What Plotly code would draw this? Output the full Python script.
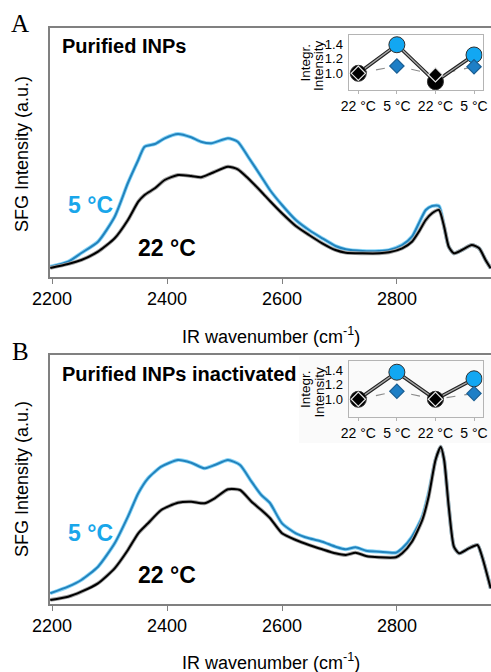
import plotly.graph_objects as go

# ---------------- data ----------------
wn_a = [2197, 2228, 2251, 2280, 2309, 2332, 2350, 2361, 2379, 2396, 2419, 2442, 2459, 2477,
        2506, 2523, 2541, 2564, 2579, 2600, 2624, 2647, 2670, 2693, 2711, 2740, 2769, 2786,
        2809, 2826, 2838, 2850, 2861, 2873, 2882, 2890, 2899, 2913, 2930, 2943, 2954, 2963]
a_5c = [10.3, 15.3, 24, 35.3, 60.3, 94, 117, 130.3, 133, 138.7, 143, 139.7, 135.3, 133.7,
        138.7, 135.3, 120.3, 100.3, 87, 72, 57, 47, 38.7, 31, 27.7, 26, 26, 27,
        32, 40.3, 53.7, 67, 71, 71, 50.3, 30.3, 23.7, 27, 32, 28.7, 17, 8.7]
a_22c = [9, 13, 17, 25.3, 38.7, 57, 75.3, 82, 88.7, 97, 102, 101, 99.7, 103.7,
         110.3, 107.7, 98.7, 85.3, 76, 63.7, 51, 42, 33.7, 27, 24.3, 23.7, 23.7, 24.7,
         28.7, 35.3, 45.3, 57, 63.7, 67, 50.3, 30.3, 23.7, 27, 32, 28.7, 17, 8.7]

wn_b = [2197, 2228, 2251, 2280, 2309, 2332, 2350, 2367, 2390, 2419, 2442, 2465, 2483, 2506,
        2527, 2547, 2564, 2579, 2600, 2624, 2647, 2670, 2693, 2711, 2728, 2746, 2769, 2798,
        2809, 2826, 2844, 2855, 2867, 2876, 2882, 2890, 2899, 2908, 2925, 2940, 2948, 2963]
b_5c = [10.7, 17.3, 24, 37.3, 60.7, 87.3, 110.7, 125.7, 137.3, 144, 141.3, 135.7, 139, 144,
        139, 122.3, 109, 101, 80.7, 70.7, 65.7, 62.3, 57.3, 54.7, 56.7, 53.3, 52.3, 51.3,
        55.7, 67.3, 87.3, 110.7, 144, 157.3, 144, 97.3, 57.3, 50.7, 55.7, 59, 47.3, 15.7]
b_22c = [4, 7.3, 12.3, 20.7, 35.7, 54, 70.7, 80.7, 94, 101.3, 102.3, 100.7, 105.7, 114.7,
         114, 102.3, 94, 86, 70.7, 64, 59, 54.7, 50.7, 49, 51.3, 48, 46.7, 46.7,
         50.7, 62.3, 84, 107.3, 144, 157.3, 144, 97.3, 57.3, 50.7, 55.7, 59, 47.3, 15.7]

inset_pos = [0, 1, 2, 3]
inset_labels = ["22 °C", "5 °C", "22 °C", "5 °C"]
inset_ticks = [1.0, 1.2, 1.4]
a_circles = [1.0, 1.39, 0.885, 1.25]
a_diamonds = [1.0, 1.10, 0.98, 1.09]
b_circles = [1.0, 1.37, 1.0, 1.28]
b_diamonds = [1.0, 1.11, 1.0, 1.08]

# ---------------- styling ----------------
W, H = 491, 672
FONT = "Liberation Sans, Arial, sans-serif"
LIGHTBLUE = "#19A6EA"
BLUE_LINE = "#2283BD"
BLUE_NOISE = "#8AD5F7"
GRAY_NOISE = "#a0a0a0"
AX = "#808080"


def px(x):
    return x / W


def py(y):
    return 1 - y / H


fig = go.Figure()


def add_spectrum(xs, ys, color, noise, xa, ya):
    fig.add_trace(go.Scatter(x=xs, y=ys, mode="lines", line=dict(color=noise, width=3.8, shape="spline", smoothing=0.6),
                             xaxis=xa, yaxis=ya, showlegend=False, hoverinfo="skip"))
    fig.add_trace(go.Scatter(x=xs, y=ys, mode="lines", line=dict(color=color, width=2, shape="spline", smoothing=0.6),
                             xaxis=xa, yaxis=ya, showlegend=False))


add_spectrum(wn_a, a_5c, BLUE_LINE, BLUE_NOISE, "x", "y")
add_spectrum(wn_a, a_22c, "#000000", GRAY_NOISE, "x", "y")
add_spectrum(wn_b, b_5c, BLUE_LINE, BLUE_NOISE, "x2", "y2")
add_spectrum(wn_b, b_22c, "#000000", GRAY_NOISE, "x2", "y2")


def add_inset(circ, dia, xa, ya):
    fig.add_trace(go.Scatter(x=inset_pos, y=dia, mode="lines", line=dict(color="#8c8c8c", width=1.2, dash="dash"),
                             xaxis=xa, yaxis=ya, showlegend=False))
    fig.add_trace(go.Scatter(x=inset_pos, y=circ, mode="lines", line=dict(color="#222222", width=3.6),
                             xaxis=xa, yaxis=ya, showlegend=False))
    fig.add_trace(go.Scatter(x=inset_pos, y=circ, mode="lines", line=dict(color="#a8a8a8", width=1.4),
                             xaxis=xa, yaxis=ya, showlegend=False))
    ccol = ["#000000", "#12A7F2", "#000000", "#12A7F2"]
    fig.add_trace(go.Scatter(x=inset_pos, y=circ, mode="markers",
                             marker=dict(size=16, color=ccol, line=dict(color="#303030", width=1)),
                             xaxis=xa, yaxis=ya, showlegend=False))
    dcol = ["#000000", "#1E7FC6", "#000000", "#1E7FC6"]
    dline = ["#e6e6e6", "#1a5f94", "#e6e6e6", "#1a5f94"]
    fig.add_trace(go.Scatter(x=inset_pos, y=dia, mode="markers",
                             marker=dict(symbol="diamond", size=11, color=dcol, line=dict(color=dline, width=1.2)),
                             xaxis=xa, yaxis=ya, showlegend=False))


add_inset(a_circles, a_diamonds, "x3", "y3")
add_inset(b_circles, b_diamonds, "x4", "y4")

main_x = dict(range=[2196.5, 2963.5], domain=[px(50), 1.0], showline=True, linecolor=AX, linewidth=1.5,
              mirror=True, ticks="outside", ticklen=5, tickcolor=AX, tickwidth=1.2,
              tickvals=[2200, 2400, 2600, 2800], tickfont=dict(size=18, color="#000", family=FONT),
              showgrid=False, zeroline=False, automargin=False)
main_y = dict(range=[0, 249], showline=True, linecolor=AX, linewidth=1.5, showticklabels=False,
              ticks="", showgrid=False, zeroline=False, automargin=False)

ins_x = dict(range=[-0.254, 3.22], domain=[px(348.5), px(482.5)], showline=True, linecolor="#b4b4b4",
             linewidth=1, mirror=True, ticks="outside", ticklen=3, tickcolor="#b4b4b4",
             tickvals=inset_pos, ticktext=inset_labels, tickfont=dict(size=14, color="#000", family=FONT),
             showgrid=False, zeroline=False, automargin=False)
ins_y = dict(showline=True, linecolor="#b4b4b4", linewidth=1, mirror=True, ticks="",
             tickvals=inset_ticks, ticktext=["1.0", "1.2", "1.4"], tickfont=dict(size=13, color="#000", family=FONT),
             ticklabelstandoff=2, showgrid=False, zeroline=False, automargin=False)

fig.update_layout(
    width=W, height=H, margin=dict(l=0, r=0, t=0, b=0, pad=0), autosize=False,
    paper_bgcolor="white", plot_bgcolor="rgba(0,0,0,0)",
    font=dict(family=FONT, color="#000"),
    xaxis=dict(main_x, anchor="y"),
    yaxis=dict(main_y, domain=[py(277), py(28)], anchor="x"),
    xaxis2=dict(main_x, anchor="y2"),
    yaxis2=dict(main_y, domain=[py(604), py(355)], anchor="x2"),
    xaxis3=dict(ins_x, anchor="y3"),
    yaxis3=dict(ins_y, range=[0.772, 1.523], domain=[py(90), py(35)], anchor="x3"),
    xaxis4=dict(ins_x, anchor="y4"),
    yaxis4=dict(ins_y, range=[0.758, 1.523], domain=[py(417), py(361)], anchor="x4"),
)

fig.add_shape(type="rect", xref="paper", yref="paper", x0=px(299), x1=1.0, y0=py(443), y1=py(356.5),
              fillcolor="#fafafa", line=dict(width=0), layer="below")


def ann(text, x, y, size, color="#000", bold=False, angle=0, family=FONT, xanchor="center"):
    if bold:
        text = "<b>" + text + "</b>"
    fig.add_annotation(text=text, x=px(x), y=py(y), xref="paper", yref="paper", showarrow=False,
                       font=dict(size=size, color=color, family=family), textangle=angle,
                       xanchor=xanchor, yanchor="middle")


serif = "Liberation Serif, Times New Roman, serif"
ann("A", 20, 24, 25, family=serif)
ann("B", 20, 351, 25, family=serif)
ann("Purified INPs", 60, 46, 20, bold=True, xanchor="left")
ann("Purified INPs inactivated", 60, 373.5, 20, bold=True, xanchor="left")
for yc in (154, 479):
    ann("SFG Intensity (a.u.)", 22, yc, 18, angle=-90)
for yc in (335, 661):
    ann("IR wavenumber (cm<sup>-1</sup>)", 270.5, yc, 18)
ann("5 °C", 90, 205.5, 23, color=LIGHTBLUE, bold=True)
ann("22 °C", 167, 248, 23, bold=True)
ann("5 °C", 90, 533, 23, color=LIGHTBLUE, bold=True)
ann("22 °C", 167, 575, 23, bold=True)
for yc in (62.5, 389):
    ann("Integr.", 305, yc, 13.5, angle=-90)
    ann("Intensity", 318.5, yc + 3, 13.5, angle=-90)

fig.write_html("out.html", config={"displayModeBar": False, "responsive": False},
               post_script="document.body.style.margin='0px';document.body.style.overflow='hidden';")
